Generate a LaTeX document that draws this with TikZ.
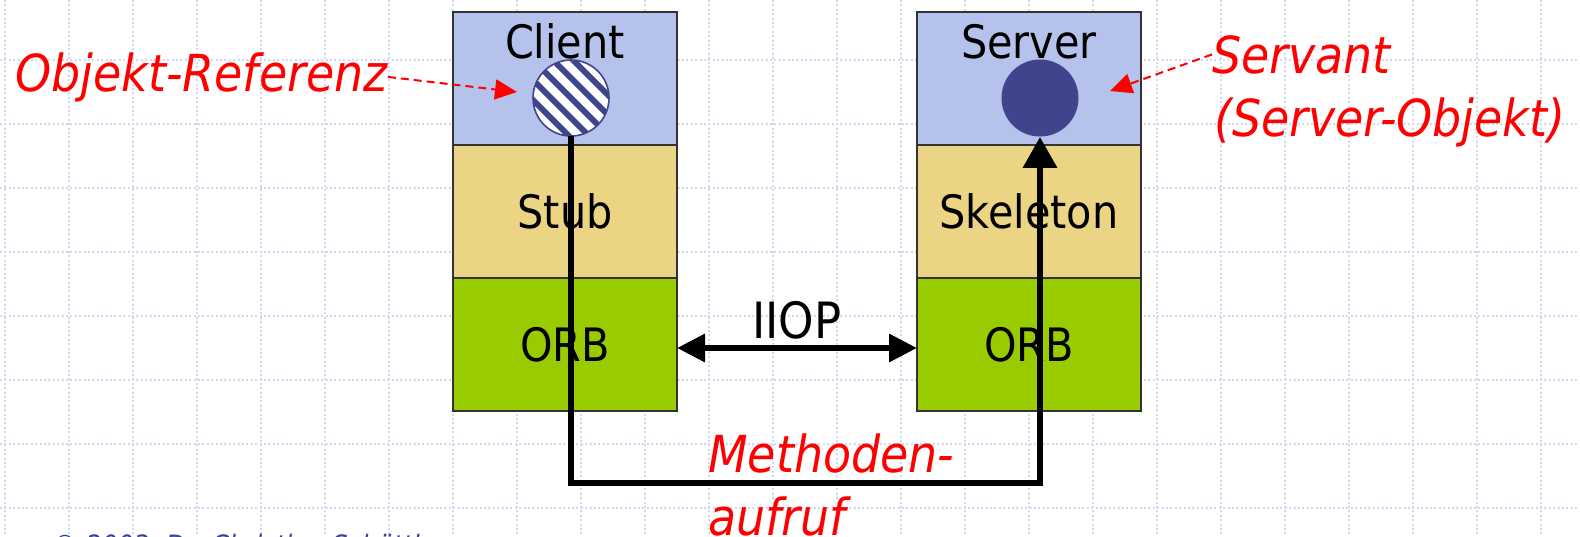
\documentclass[tikz,border=0pt]{standalone}
\usepackage{fontspec}
\setmainfont{DejaVu Sans Condensed}[ItalicFont={DejaVu Sans Condensed Oblique}]
\usepackage{xcolor}
\usetikzlibrary{arrows.meta}
\definecolor{layerblue}{HTML}{B5C2EB}
\definecolor{layeryellow}{HTML}{EBD585}
\definecolor{layergreen}{HTML}{99CC00}
\definecolor{objblue}{HTML}{40448C}
\definecolor{gridblue}{HTML}{CDD9F7}

\begin{document}
\begin{tikzpicture}[x=0.5pt,y=-0.5pt,
  layer/.style={draw=black!80,line width=0.7pt,minimum width=112pt,minimum height=66.5pt,
    inner sep=0pt,outer sep=0pt,font=\fontsize{23}{28}\selectfont},
  layertext/.style={inner sep=0pt,font=\fontsize{23}{28}\selectfont},
  redtext/.style={text=red,inner sep=0pt,font=\itshape\fontsize{25.5}{30}\selectfont},
  refarrow/.style={red,line width=1pt,dash pattern=on 4pt off 2.5pt,-{Triangle[length=11pt,width=10pt]}},
  gridline/.style={gridblue,line width=0.7pt,dash pattern=on 1pt off 1.2pt}]
\path[use as bounding box] (0,0) rectangle (1580,536);
\clip (0,0) rectangle (1580,536);

% grid
\foreach \gx in {5,69,...,1541} \draw[gridline] (\gx,0) -- (\gx,536);
\foreach \gy in {60,124,...,508} \draw[gridline] (0,\gy) -- (1580,\gy);

% client side
\node[layer,fill=layerblue] (client) at (565,78.5) {};
\node[layer,fill=layeryellow] (stub) at (565,211.5) {Stub};
\node[layer,fill=layergreen] (orbc) at (565,344.5) {ORB};
\node[layertext,anchor=base] (clientlbl) at (565,58) {Client};

% server side
\node[layer,fill=layerblue] (server) at (1029,78.5) {};
\node[layer,fill=layeryellow] (skel) at (1029,211.5) {Skeleton};
\node[layer,fill=layergreen] (orbs) at (1029,344.5) {ORB};
\node[layertext,anchor=base] (serverlbl) at (1029,58) {Server};

% object reference (hatched) and servant
\node[circle,minimum size=38pt,inner sep=0pt,fill=white] (cref) at (571,98) {};
\begin{scope}
  \clip (571,98) circle (38);
  \foreach \s in {-100,-80,...,100}
    \draw[objblue,line width=3pt] ({511+\s},38) -- ({631+\s},158);
\end{scope}
\draw[objblue,line width=0.8pt] (cref.center) circle (38);
\node[circle,minimum size=38.5pt,inner sep=0pt,fill=objblue] (sobj) at (1040,98) {};

% IIOP
\draw[line width=3.2pt,{Triangle[length=14pt,width=13.5pt]}-{Triangle[length=14pt,width=13.5pt]}]
  ([yshift=-1.75pt]orbc.east) -- ([yshift=-1.75pt]orbs.west);
\node[layertext,anchor=base,font=\fontsize{25}{30}\selectfont] (iiop) at (797,338) {IIOP};

% method call
\coordinate (mcorner) at (1040,483);
\draw[line width=3.2pt,-{Triangle[length=15.5pt,width=16.5pt]}] (cref.south) |- (mcorner) -- (sobj.south);
\node[redtext,anchor=base west] (meth) at (708,472) {Methoden-};
\node[redtext,anchor=base west] (aufruf) at (708,535) {aufruf};

% labels
\node[redtext,anchor=base west] (oref) at (15,91) {Objekt-Referenz};
\coordinate (oreftip) at (517,92);
\draw[refarrow] (oref.east) -- (oreftip);
\node[redtext,anchor=base west] (servant) at (1212,73) {Servant};
\node[redtext,anchor=base west] (servobj) at (1214,136) {(Server-Objekt)};
\coordinate (servtip) at (1110,91);
\draw[refarrow] (servant.west) -- (servtip);

\node[anchor=base west,inner sep=0pt,text=objblue,font=\itshape\fontsize{14}{17}\selectfont] (copy) at (52,555)
  {© 2003, Dr. Christian Schöttl};
\end{tikzpicture}
\end{document}
